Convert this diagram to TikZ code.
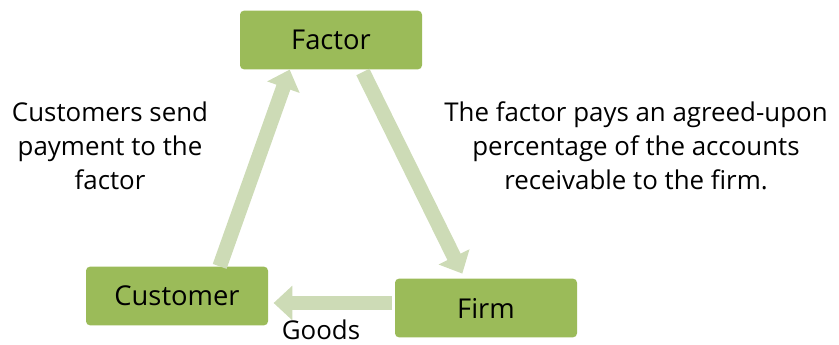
\documentclass[tikz,border=0pt]{standalone}
\usepackage{fontspec}
\setmainfont{Open Sans}
\usetikzlibrary{arrows.meta}
\definecolor{boxgreen}{HTML}{9BBB59}
\definecolor{flowgreen}{HTML}{CDDBB6}
\begin{document}
\begin{tikzpicture}[x=0.75pt,y=-0.75pt,
    party/.style={fill=boxgreen,rounded corners=3pt,minimum width=136.5pt,minimum height=44pt,font=\fontsize{20.5}{24}\selectfont},
    flow/.style={draw=flowgreen,line width=11pt,-{Triangle[width=25pt,length=14pt,fill=flowgreen]}},
    note/.style={align=center,font=\fontsize{19.4}{25.5}\selectfont}]
    \useasboundingbox (0,0) rectangle (839,345);
    \node[party] (fac) at (331,40) {Factor};
    \node[party] (cust) at (177,296) {Customer};
    \node[party] (firm) at (486,308) {Firm};
    \draw[flow] ([xshift=32pt]cust.north) -- ([xshift=-31pt]fac.south);
    \draw[flow,shorten <=2pt,shorten >=4pt] ([xshift=23pt]fac.south) -- ([xshift=-16pt]firm.north);
    \draw[flow,shorten <=2pt,shorten >=4pt] ([yshift=3.75pt]firm.west) -- ([yshift=3.75pt]firm.west -| cust.east);
    \node[note] (pay) at (110,146) {Customers send\\payment to the\\factor};
    \node[note] (adv) at (636,146) {The factor pays an agreed-upon\\percentage of the accounts\\receivable to the firm.};
    \node[note,inner sep=0pt] (goods) at (321,330) {Goods};
\end{tikzpicture}
\end{document}
